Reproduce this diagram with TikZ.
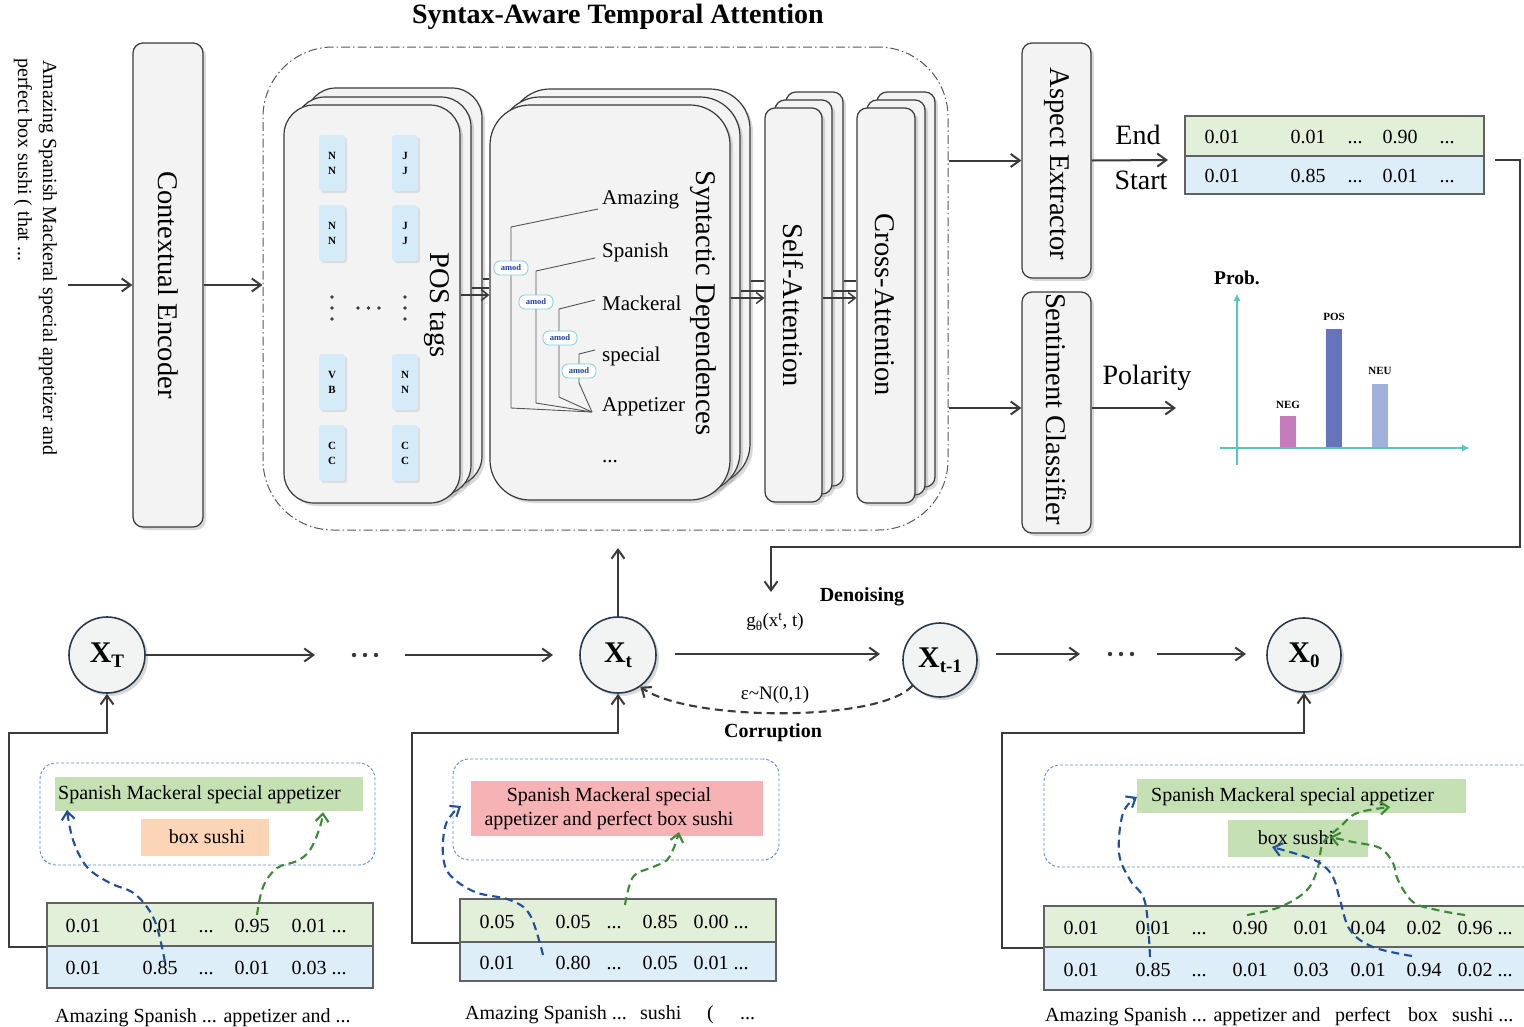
\documentclass[tikz,border=0pt]{standalone}
\usepackage{fontspec}
\setmainfont{Liberation Serif}
\usetikzlibrary{arrows.meta,shadows}
\definecolor{boxfill}{HTML}{F3F3F3}
\definecolor{boxline}{HTML}{3A3A3A}
\definecolor{tagfill}{HTML}{D5EBF7}
\definecolor{rowgreen}{HTML}{E2EFD9}
\definecolor{rowblue}{HTML}{DDEEF9}
\definecolor{hlgreen}{HTML}{C5E0B3}
\definecolor{hlorange}{HTML}{FBD5B5}
\definecolor{hlpink}{HTML}{F7B2B6}
\definecolor{dashblue}{HTML}{5B8BD0}
\definecolor{arrblue}{HTML}{1F4E9C}
\definecolor{arrgreen}{HTML}{3A8A34}
\definecolor{axisteal}{HTML}{55C8B8}
\definecolor{negc}{HTML}{C67BBD}
\definecolor{posc}{HTML}{6674BB}
\definecolor{neuc}{HTML}{A0B1DC}
\definecolor{amodline}{HTML}{7CCFE0}
\definecolor{amodtext}{HTML}{1F3FA8}
\definecolor{circfill}{HTML}{F2F4F4}
\definecolor{circline}{HTML}{2B3A4A}
\definecolor{treeline}{HTML}{555555}
\newcommand\fs[2]{\fontsize{#1}{#2}\selectfont}
\newcommand\xsub[1]{\textbf{X}\raisebox{-5pt}{\fs{19}{20}\textbf{#1}}}
\newcommand\myell{...}
\begin{document}
\begin{tikzpicture}[x=1pt,y=-1pt,
  shad/.style={drop shadow={shadow xshift=3pt,shadow yshift=-3pt,opacity=.3}},
  blk/.style={draw=boxline,fill=boxfill,line width=1.2pt,rounded corners=10pt,inner sep=0pt,shad},
  vlab/.style={rotate=-90,inner sep=0pt,font={\fs{28.5}{34}}},
  arr/.style={draw=boxline,line width=2pt,-{Straight Barb[length=9pt,width=13pt]}},
  sarr/.style={draw=boxline,line width=1.5pt,-{Straight Barb[length=7pt,width=11pt]}},
  sline/.style={draw=boxline,line width=1.5pt},
  postag/.style={fill=tagfill,minimum width=26pt,minimum height=56pt,rounded corners=3pt,inner sep=0pt,align=center,font={\bfseries\fs{11}{15}},drop shadow={shadow xshift=2pt,shadow yshift=-2pt,opacity=.2}},
  amod/.style={draw=amodline,fill=white,line width=0.8pt,rounded corners=6pt,minimum width=34pt,minimum height=14pt,inner sep=0pt,text=amodtext,font={\bfseries\fs{8.5}{9}}},
  word/.style={anchor=west,inner sep=0pt,font={\fs{21}{24}}},
  val/.style={anchor=base,inner sep=0pt,font={\fs{20}{24}}},
  txt/.style={inner sep=0pt,font={\fs{20}{24}}},
  btxt/.style={inner sep=0pt,font={\bfseries\fs{20}{24}}},
  bigt/.style={inner sep=0pt,font={\fs{28}{32}}},
  rowg/.style={draw=boxline!80,fill=rowgreen,line width=1.2pt,inner sep=0pt},
  rowb/.style={draw=boxline!80,fill=rowblue,line width=1.2pt,inner sep=0pt},
  hlbox/.style={inner sep=0pt},
  dbox/.style={draw=dashblue,densely dashed,line width=0.9pt,rounded corners=16pt,inner sep=0pt},
  statec/.style={circle,draw=circline,fill=circfill,line width=1.6pt,minimum size=76pt,inner sep=0pt,font={\fs{30}{32}},shad},
  darr/.style={dash pattern=on 8pt off 5pt,line width=2.1pt,-{Straight Barb[length=8pt,width=13pt]}},
  bartxt/.style={inner sep=0pt,font={\bfseries\fs{11}{12}}},
]
\useasboundingbox (0,0) rectangle (1524,1026);

% ---------- title ----------
\node[inner sep=0pt,font={\bfseries\fs{28}{32}}] (title) at (618,17) {Syntax-Aware Temporal Attention};

% ---------- input sentence ----------
\node[rotate=-90,anchor=west,inner sep=0pt,font={\fs{20}{24}}] (in1) at (48,60) {Amazing Spanish Mackeral special appetizer and};
\node[rotate=-90,anchor=west,inner sep=0pt,font={\fs{20}{24}}] (in2) at (23,58) {perfect box sushi ( that ...};

% ---------- contextual encoder ----------
\node[blk,minimum width=70pt,minimum height=484pt] (ce) at (168,285) {};
\node[vlab] (cet) at (168,285) {Contextual Encoder};

% ---------- syntax-aware temporal attention frame ----------
\node[draw=boxline!85,dash pattern=on 9pt off 3pt on 1.5pt off 3pt,line width=1pt,rounded corners=70pt,minimum width=685pt,minimum height=483pt,inner sep=0pt] (sata) at (605.5,288.5) {};

\coordinate (inp) at (68,285);
\draw[arr] (inp) -- (ce.west);
\draw[arr] (ce.east) -- (sata.west |- ce.east);

% POS stack
\foreach \i/\dx/\dy in {2/22/-17,1/11/-8,0/0/0}
  \node[blk,rounded corners=30pt,minimum width=176pt,minimum height=398pt] (pos\i) at (372+\dx,304+\dy) {};
\node[postag] (t1) at (332,163) {N\\N};
\node[postag] (t2) at (405,163) {J\\J};
\node[postag] (t3) at (332,233) {N\\N};
\node[postag] (t4) at (405,233) {J\\J};
\node[postag] (t5) at (332,382) {V\\B};
\node[postag] (t6) at (405,382) {N\\N};
\node[postag] (t7) at (332,453) {C\\C};
\node[postag] (t8) at (405,453) {C\\C};
\foreach \y in {297,308,319} {\fill[boxline] (332,\y) circle (1.8pt); \fill[boxline] (405,\y) circle (1.8pt);}
\foreach \x in {358,368.5,379} \fill[boxline] (\x,308) circle (1.8pt);
\node[vlab] (post) at (437,305) {POS tags};

% SD stack
\foreach \i/\dx/\dy in {2/20/-16,1/10/-8,0/0/0}
  \node[blk,rounded corners=40pt,minimum width=240pt,minimum height=395pt] (sd\i) at (610+\dx,302.5+\dy) {};
\draw[treeline,line width=0.9pt] (598,209) -- (511,227) -- (511,408) -- (592,412);
\draw[treeline,line width=0.9pt] (595,258) -- (536,271) -- (536,403) -- (592,412);
\draw[treeline,line width=0.9pt] (595,300) -- (559,309) -- (559,397) -- (592,412);
\draw[treeline,line width=0.9pt] (595,350) -- (579,354) -- (579,383) -- (592,412);
\node[amod] (am1) at (511,268) {amod};
\node[amod] (am2) at (536,302) {amod};
\node[amod] (am3) at (560,338) {amod};
\node[amod] (am4) at (579,371) {amod};
\node[word] (w1) at (602,200) {Amazing};
\node[word] (w2) at (602,252) {Spanish};
\node[word] (w3) at (602,303) {Mackeral};
\node[word] (w4) at (602,356) {special};
\node[word] (w5) at (602,407) {Appetizer};
\node[word] (w6) at (602,462) {...};
\node[vlab] (sdt) at (703,303) {Syntactic Dependences};

% SA stack
\foreach \i/\dx/\dy in {2/21/-16,1/10/-8,0/0/0}
  \node[blk,minimum width=57pt,minimum height=394pt] (sa\i) at (793.5+\dx,305+\dy) {};
\node[vlab] (sat) at (793,305) {Self-Attention};

% CA stack
\foreach \i/\dx/\dy in {2/20/-16,1/10/-8,0/0/0}
  \node[blk,minimum width=58pt,minimum height=395pt] (ca\i) at (886+\dx,305.5+\dy) {};
\node[vlab] (cat) at (885,305) {Cross-Attention};

% arrows between stacks
\draw[sarr] (pos0.east |- 0,295) -- (sd0.west |- 0,295);
\draw[sline] (pos1.east |- 0,288) -- (sd0.west |- 0,288);
\draw[sline] (pos2.east |- 0,279) -- (sd0.west |- 0,279);
\draw[sarr] (sd0.east |- 0,298) -- (sa0.west |- 0,298);
\draw[sline] (sd1.east |- 0,291) -- (sa0.west |- 0,291);
\draw[sline] (sd2.east |- 0,281) -- (sa0.west |- 0,281);
\draw[sarr] (sa0.east |- 0,298) -- (ca0.west |- 0,298);
\draw[sline] (sa1.east |- 0,291) -- (ca0.west |- 0,291);
\draw[sline] (sa2.east |- 0,281) -- (ca0.west |- 0,281);

% ---------- heads ----------
\node[blk,minimum width=69pt,minimum height=235pt] (ae) at (1056.5,160.5) {};
\node[vlab] (aet) at (1056.5,164) {Aspect Extractor};
\node[blk,minimum width=69pt,minimum height=241pt] (sc) at (1056.5,412.5) {};
\node[vlab] (sct) at (1056.5,409) {Sentiment Classifier};
\draw[arr] (sata.east |- ae.west) -- (ae.west);
\draw[arr] (sata.east |- 0,408) -- (sc.west |- 0,408);

\node[bigt] (endl) at (1138,135) {End};
\node[bigt] (startl) at (1141,180) {Start};
\coordinate (aeo) at (1168,160);
\draw[arr] (ae.east) -- (aeo);

\node[rowg,minimum width=299pt,minimum height=40pt] (ttg) at (1334.5,136) {};
\node[rowb,minimum width=299pt,minimum height=38pt] (ttb) at (1334.5,175) {};
\foreach \x/\t [count=\i] in {1222/0.01,1308/0.01,1355/\myell,1400/0.90,1447/\myell}
  \node[val] (tg\i) at (\x,143) {\t};
\foreach \x/\t [count=\i] in {1222/0.01,1308/0.85,1355/\myell,1400/0.01,1447/\myell}
  \node[val] (tb\i) at (\x,182) {\t};

\coordinate (fbs) at (1495,160);
\coordinate (fbe) at (771,592);
\draw[arr] (fbs) -- (1520,160) |- (771,547) -- (fbe);

\node[bigt] (pol) at (1147,378) {Polarity};
\coordinate (polo) at (1176,408);
\draw[arr] (sc.east |- polo) -- (polo);

% chart
\node[inner sep=0pt,font={\bfseries\fs{19.5}{22}}] (prob) at (1237,278) {Prob.};
\draw[axisteal,line width=1.8pt,-{Triangle[length=7pt,width=6pt]}] (1237,465) -- (1237,294);
\draw[axisteal,line width=1.8pt,-{Triangle[length=7pt,width=6pt]}] (1220,448) -- (1469,448);
\fill[negc] (1280,416) rectangle (1296,447);
\fill[posc] (1326,329) rectangle (1342,447);
\fill[neuc] (1372,384) rectangle (1388,447);
\node[bartxt] (negl) at (1288,405) {NEG};
\node[bartxt] (posl) at (1334,317) {POS};
\node[bartxt] (neul) at (1380,371) {NEU};

% ---------- diffusion chain ----------
\node[statec] (xT) at (107,655) {\xsub{T}};
\node[statec] (xt) at (618,655) {\xsub{t}};
\node[statec,minimum size=74pt] (xtm) at (940,660) {\xsub{t-1}};
\node[statec,minimum size=74pt] (x0) at (1304,655) {\xsub{0}};

\coordinate (a1e) at (315,655);
\draw[arr] (xT.east) -- (a1e);
\foreach \x in {354,365,376} \fill[boxline] (\x,655) circle (2.2pt);
\coordinate (a2s) at (405,655); \coordinate (a2e) at (553,655);
\draw[arr] (a2s) -- (a2e);
\coordinate (a3s) at (675,654); \coordinate (a3e) at (880,654);
\draw[arr] (a3s) -- (a3e);
\coordinate (a4s) at (996,654); \coordinate (a4e) at (1080,654);
\draw[arr] (a4s) -- (a4e);
\foreach \x in {1110,1121,1132} \fill[boxline] (\x,654) circle (2.2pt);
\coordinate (a5s) at (1157,654); \coordinate (a5e) at (1246,654);
\draw[arr] (a5s) -- (a5e);
\coordinate (upe) at (618,548);
\draw[arr] (xt.north) -- (upe);

\draw[boxline,darr] (xtm.-137) .. controls (880,722) and (690,722) .. (xt.-55);
\node[inner sep=0pt,font={\fs{19}{22}}] (gth) at (775,622) {g\textsubscript{θ}(x\textsuperscript{t}, t)};
\node[btxt] (den) at (862,597) {Denoising};
\node[inner sep=0pt,font={\fs{19}{22}}] (eps) at (775,695) {ε\textasciitilde N(0,1)};
\node[btxt] (cor) at (773,733) {Corruption};

% ---------- left sample ----------
\node[dbox,minimum width=335pt,minimum height=102pt] (lbox) at (207.5,814) {};
\node[hlbox,fill=hlgreen,minimum width=308pt,minimum height=34pt] (lg) at (209,794) {};
\node[txt,anchor=west] (lgt) at (58,795) {Spanish Mackeral special appetizer};
\node[hlbox,fill=hlorange,minimum width=128pt,minimum height=37pt] (lo) at (205,837.5) {};
\node[txt] (lot) at (207,837) {box sushi};
\node[rowg,minimum width=326pt,minimum height=43pt] (tlg) at (210,924.5) {};
\node[rowb,minimum width=326pt,minimum height=42pt] (tlb) at (210,967) {};
\foreach \x/\t [count=\i] in {83/0.01,160/0.01,206/\myell,252/0.95,319/0.01 \myell}
  \node[val] (lvg\i) at (\x,932) {\t};
\foreach \x/\t [count=\i] in {83/0.01,160/0.85,206/\myell,252/0.01,319/0.03 \myell}
  \node[val] (lvb\i) at (\x,974) {\t};
\node[txt,anchor=base west] (lcap) at (55,1022) {Amazing Spanish ... appetizer and ...};
\draw[arr] (tlg.south west) -| (9,733) -| (xT.south);
\draw[arrblue,darr] plot[smooth,tension=0.6] coordinates {(165,962) (157,927) (147,907) (132,892) (110,883) (87,867) (73,840) (67,810)};
\draw[arrgreen,darr] plot[smooth,tension=0.6] coordinates {(257,915) (263,887) (277,868) (297,861) (310,850) (320,827) (323,812)};

% ---------- middle sample ----------
\node[dbox,minimum width=326pt,minimum height=101pt] (mbox) at (616,809.5) {};
\node[hlbox,fill=hlpink,minimum width=292pt,minimum height=55pt] (mp) at (617,808.5) {};
\node[txt,align=center] (mpt) at (609,808.5) {Spanish Mackeral special\\appetizer and perfect box sushi};
\node[rowg,minimum width=316pt,minimum height=43pt] (tmg) at (618,920.5) {};
\node[rowb,minimum width=316pt,minimum height=39pt] (tmb) at (618,961.5) {};
\foreach \x/\t [count=\i] in {497/0.05,573/0.05,614/\myell,660/0.85,721/0.00 \myell}
  \node[val] (mvg\i) at (\x,928) {\t};
\foreach \x/\t [count=\i] in {497/0.01,573/0.80,614/\myell,660/0.05,721/0.01 \myell}
  \node[val] (mvb\i) at (\x,969) {\t};
\node[txt,anchor=base west] (mcap1) at (465,1019) {Amazing Spanish ...};
\node[txt,anchor=base west] (mcap2) at (640,1019) {sushi};
\node[txt,anchor=base west] (mcap3) at (707,1019) {(};
\node[txt,anchor=base west] (mcap4) at (740,1019) {...};
\draw[arr] (tmg.south west) -| (412,733) -| (xt.south);
\draw[arrblue,darr] plot[smooth,tension=0.6] coordinates {(543,955) (530,915) (510,900) (475,892) (450,875) (443,855) (445,827) (453,813) (461,806)};
\draw[arrgreen,darr] plot[smooth,tension=0.6] coordinates {(625,905) (633,877) (653,867) (667,860) (675,845) (679,832)};

% ---------- right sample ----------
\node[dbox,minimum width=500pt,minimum height=102pt] (rbox) at (1294,816) {};
\node[hlbox,fill=hlgreen,minimum width=329pt,minimum height=34pt] (rg1) at (1301.5,796) {};
\node[txt,anchor=west] (rg1t) at (1151,797) {Spanish Mackeral special appetizer};
\node[hlbox,fill=hlgreen,minimum width=140pt,minimum height=37pt] (rg2) at (1298,838.5) {};
\node[txt] (rg2t) at (1296,838) {box sushi};
\node[rowg,minimum width=500pt,minimum height=41pt] (trg) at (1294,926.5) {};
\node[rowb,minimum width=500pt,minimum height=43pt] (trb) at (1294,968.5) {};
\foreach \x/\t [count=\i] in {1081/0.01,1153/0.01,1199/\myell,1250/0.90,1311/0.01,1368/0.04,1424/0.02,1485/0.96 \myell}
  \node[val] (rvg\i) at (\x,934) {\t};
\foreach \x/\t [count=\i] in {1081/0.01,1153/0.85,1199/\myell,1250/0.01,1311/0.03,1368/0.01,1424/0.94,1485/0.02 \myell}
  \node[val] (rvb\i) at (\x,976) {\t};
\node[txt,anchor=base west] (rcap1) at (1045,1021) {Amazing Spanish ... appetizer and};
\node[txt,anchor=base west] (rcap2) at (1335,1021) {perfect};
\node[txt,anchor=base west] (rcap3) at (1408,1021) {box};
\node[txt,anchor=base west] (rcap4) at (1452,1021) {sushi ...};
\draw[arr] (trg.south west) -| (1002,733) -| (x0.south);
\draw[arrblue,darr] plot[smooth,tension=0.6] coordinates {(1150,957) (1145,902) (1130,880) (1119,853) (1123,813) (1137,797)};
\draw[arrgreen,darr] plot[smooth,tension=0.6] coordinates {(1247,915) (1280,907) (1307,890) (1318,867) (1323,843) (1340,827) (1357,813) (1390,807)};
\draw[arrblue,darr] plot[smooth,tension=0.6] coordinates {(1412,956) (1373,947) (1350,930) (1340,900) (1333,877) (1320,863) (1300,855) (1272,847)};
\draw[arrgreen,darr] plot[smooth,tension=0.6] coordinates {(1465,915) (1437,910) (1413,902) (1398,880) (1393,863) (1380,848) (1353,842) (1330,837)};
\end{tikzpicture}
\end{document}
